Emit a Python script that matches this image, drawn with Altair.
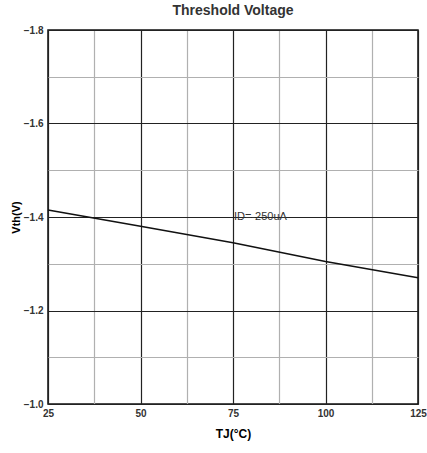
import altair as alt
import pandas as pd

temps = [25, 50, 75, 100, 125]
vth = [-1.415, -1.38, -1.345, -1.305, -1.27]
x_ticks = [25, 37.5, 50, 62.5, 75, 87.5, 100, 112.5, 125]
y_ticks = [-1.8, -1.7, -1.6, -1.5, -1.4, -1.3, -1.2, -1.1, -1.0]
note_x = [75]
note_y = [-1.4]
note_text = ["ID=-250uA"]

df = pd.DataFrame({"T": temps, "V": vth})
notes = pd.DataFrame({"T": note_x, "V": note_y, "label": note_text})

font = "Liberation Sans"

xgrid = {"condition": {"test": "datum.value % 25 == 0", "value": "#222222"}, "value": "#b0b0b0"}
ygrid = {"condition": {"test": "abs(round(datum.value*10)) % 2 == 0", "value": "#222222"}, "value": "#b0b0b0"}

xs = alt.X("T:Q", scale=alt.Scale(domain=[25, 125], nice=False),
           axis=alt.Axis(values=x_ticks, title="TJ(°C)", grid=True, gridColor=xgrid,
                         gridWidth=1.2, domain=False, ticks=False,
                         labelExpr="datum.value % 25 == 0 ? datum.label : ''",
                         labelFontSize=10, labelFontWeight="bold", labelColor="#333333",
                         labelFont=font, labelPadding=4, titleFont=font, titleFontSize=12,
                         titleFontWeight="bold", titlePadding=10, labelFlush=False))
ys = alt.Y("V:Q", scale=alt.Scale(domain=[-1.8, -1.0], reverse=True, nice=False),
           axis=alt.Axis(values=y_ticks, title="Vth(V)", grid=True, gridColor=ygrid,
                         gridWidth=1.2, domain=False, ticks=False,
                         labelExpr="abs(round(datum.value*10)) % 2 == 0 ? format(datum.value, '.1f') : ''",
                         labelFontSize=10, labelFontWeight="bold", labelColor="#333333",
                         labelFont=font, labelPadding=5, titleFont=font, titleFontSize=11,
                         titleFontWeight="bold", titlePadding=2))

line = alt.Chart(df).mark_line(color="#111111", strokeWidth=1.5).encode(x=xs, y=ys)

text = alt.Chart(notes).mark_text(align="left", baseline="middle", fontSize=11,
                                  font=font, color="#333333", dx=1).encode(
    x=alt.X("T:Q"), y=alt.Y("V:Q"), text="label:N")

chart = alt.layer(line, text).properties(
    width=370, height=374,
    autosize=alt.AutoSizeParams(type="none"),
    padding={"left": 48, "top": 30, "right": 9, "bottom": 49},
    title=alt.TitleParams("Threshold Voltage", font=font, fontSize=14, fontWeight="bold",
                          color="#333333", offset=7),
).configure_view(stroke="#111111", strokeWidth=1.5)

chart.save("out.html", embed_options={"renderer": "svg", "actions": False})
